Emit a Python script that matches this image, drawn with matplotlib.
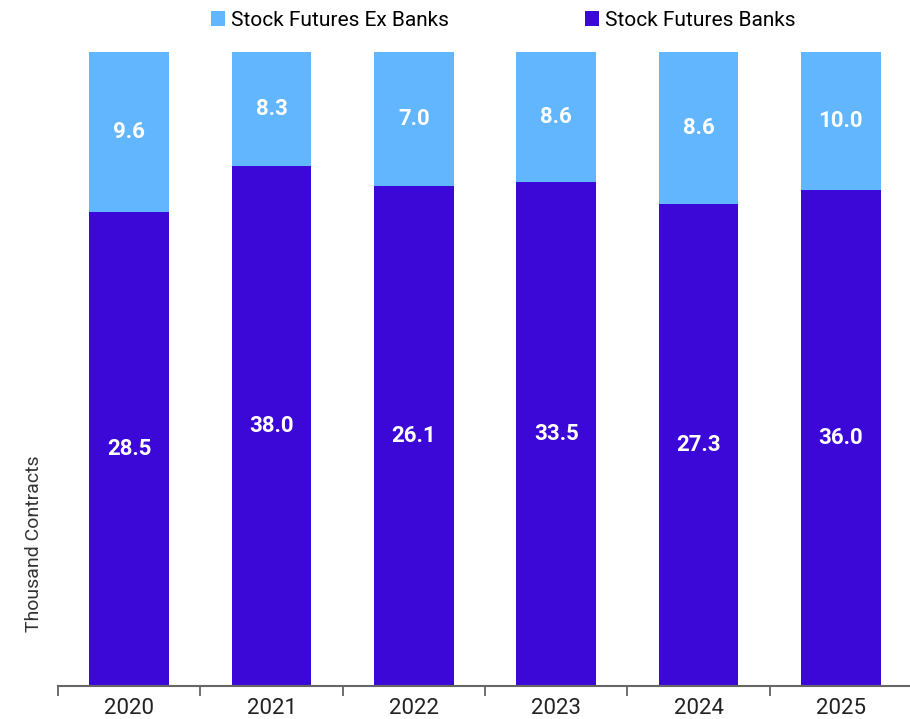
import numpy as np
import matplotlib.pyplot as plt

years = ["2020", "2021", "2022", "2023", "2024", "2025"]
banks = np.array([28.5, 38.0, 26.1, 33.5, 27.3, 36.0])
ex_banks = np.array([9.6, 8.3, 7.0, 8.6, 8.6, 10.0])

plt.rcParams['font.family'] = ['Roboto', 'DejaVu Sans']

total = banks + ex_banks
banks_share = banks / total
ex_share = ex_banks / total

fig = plt.figure(figsize=(9.1, 7.19), dpi=100)
ax = fig.add_axes([58 / 910, 1 - 686 / 719, (912 - 58) / 910, 634 / 719])

x = np.arange(len(years))
dark = "#3C08D8"
light = "#62B6FD"
b1 = ax.bar(x, banks_share, width=0.56, color=dark, label="Stock Futures Banks")
b2 = ax.bar(x, ex_share, width=0.56, bottom=banks_share, color=light, label="Stock Futures Ex Banks")

for i in range(len(years)):
    ax.text(x[i], banks_share[i] / 2, f"{banks[i]:.1f}", ha="center", va="center",
            color="white", fontsize=16, fontweight="bold")
    ax.text(x[i], banks_share[i] + ex_share[i] / 2, f"{ex_banks[i]:.1f}", ha="center", va="center",
            color="white", fontsize=16, fontweight="bold")

ax.set_xlim(-0.5, 5.5)
ax.set_ylim(0, 1)
ax.set_yticks([])
ax.set_xticks(x)
ax.set_xticklabels(years, fontsize=16, color="#222222")
ax.set_xticks(np.arange(-0.5, 5.6, 1), minor=True)
ax.tick_params(axis="x", which="major", length=0, pad=9)
ax.tick_params(axis="x", which="minor", length=7, color="#555555", width=1.2)
for s in ["left", "right", "top"]:
    ax.spines[s].set_visible(False)
ax.spines["bottom"].set_color("#666666")
ax.spines["bottom"].set_linewidth(1.5)

ax.set_ylabel("Thousand Contracts", fontsize=14, color="#333333")
ax.yaxis.set_label_coords(-0.017, 0.225)

fig.legend(handles=[b2, b1], loc="center", bbox_to_anchor=(0.553, 1 - 20 / 719), ncol=2,
           frameon=False, fontsize=15, handlelength=0.7, handleheight=0.7,
           columnspacing=6.5, handletextpad=0.3)

fig.savefig("out.png", dpi=100)
